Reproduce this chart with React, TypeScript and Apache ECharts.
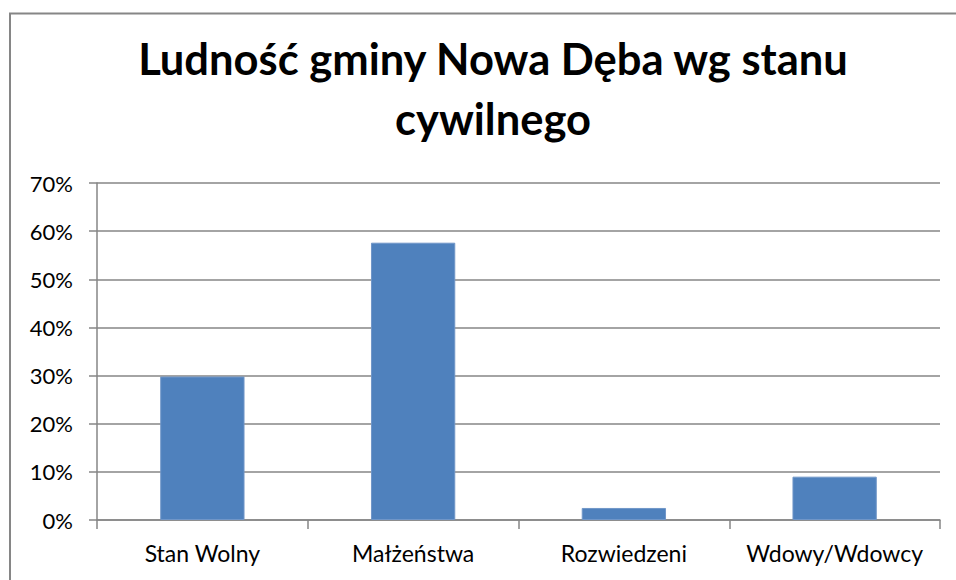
import React, { useEffect, useRef } from "react";
import * as echarts from "echarts";

const categories = ["Stan Wolny", "Małżeństwa", "Rozwiedzeni", "Wdowy/Wdowcy"];
const values = [29.8, 57.6, 2.5, 9.0];
const titleText = "Ludność gminy Nowa Dęba wg stanu\ncywilnego";

export default function App() {
  const ref = useRef<HTMLDivElement>(null);
  useEffect(() => {
    document.body.style.margin = "0";
    const chart = echarts.init(ref.current!, null, { renderer: "svg" });
    const font = "Lato, 'Noto Sans', sans-serif";
    chart.setOption({
      animation: false,
      backgroundColor: "#ffffff",
      title: {
        text: titleText,
        left: 488,
        textAlign: "center",
        top: 23,
        textStyle: {
          fontFamily: font,
          fontWeight: "bold",
          fontSize: 43.5,
          lineHeight: 60,
          color: "#000000",
        },
      },
      graphic: [
        {
          type: "rect",
          shape: { x: 10, y: 13.5, width: 980, height: 600 },
          style: { fill: "none", stroke: "#868686", lineWidth: 2 },
          silent: true,
        },
      ],
      grid: { left: 97, right: 16, top: 183, bottom: 60 },
      xAxis: {
        type: "category",
        data: categories,
        axisLine: { lineStyle: { color: "#868686", width: 1.5 } },
        axisTick: { show: true, interval: 0, length: 9, lineStyle: { color: "#868686", width: 1.5 } },
        axisLabel: { interval: 0, fontFamily: font, fontSize: 23, color: "#000000", margin: 21 },
      },
      yAxis: {
        type: "value",
        min: 0,
        max: 70,
        interval: 10,
        axisLine: { show: true, lineStyle: { color: "#868686", width: 1.5 } },
        axisTick: { show: true, length: 8, lineStyle: { color: "#868686", width: 1.5 } },
        axisLabel: {
          fontFamily: font,
          fontSize: 22,
          color: "#000000",
          margin: 24,
          formatter: (v: number) => v + "%",
        },
        splitLine: { lineStyle: { color: "#868686", width: 1.5 } },
      },
      series: [
        {
          type: "bar",
          data: values,
          barWidth: "40%",
          itemStyle: { color: "#4F81BD", borderColor: "#7096C8", borderWidth: 1 },
        },
      ],
    });
    return () => chart.dispose();
  }, []);
  return <div ref={ref} style={{ width: 956, height: 580 }} />;
}
